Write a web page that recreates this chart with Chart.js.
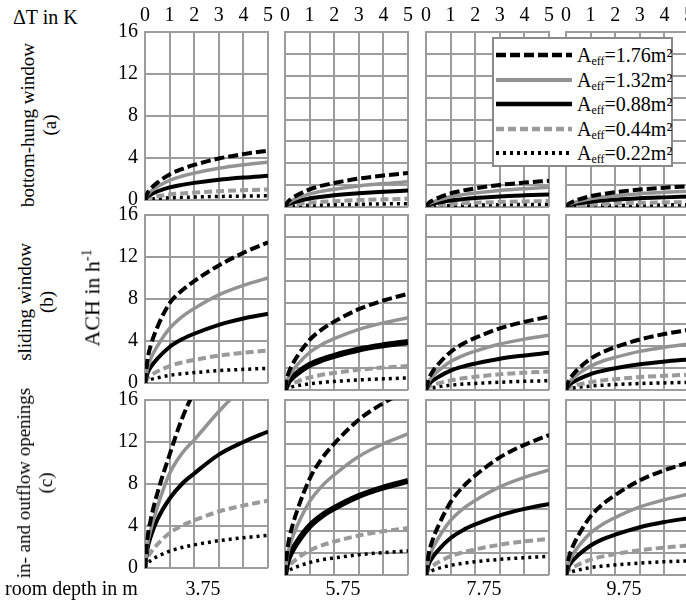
<!DOCTYPE html>
<html>
<head>
<meta charset="utf-8">
<script src="https://cdn.jsdelivr.net/npm/chart.js@4.4.1/dist/chart.umd.min.js"></script>
<style>
  html, body { margin: 0; padding: 0; background: #fff; }
  body { width: 686px; height: 603px; position: relative; overflow: hidden; color: #000; }
  canvas { position: absolute; }
  .lbl { position: absolute; white-space: nowrap; font-size: 20px; line-height: 22px; }
  .rot { transform: translate(-50%, -50%) rotate(-90deg); text-align: center; font-size: 19px; }
  #legend { position: absolute; left: 492px; top: 37px; width: 181px; height: 130px;
            box-sizing: border-box; border: 2px solid #8a8a8a; background: #fff; z-index: 10; }
  #legend .item { position: absolute; left: 0; height: 24px; width: 100%; }
  #legend svg { position: absolute; left: 2px; top: 0; }
  #legend .txt { position: absolute; left: 83px; top: 0; font-size: 20px; line-height: 24px; }
  #legend sub { font-size: 12px; vertical-align: -3px; line-height: 0; }
</style>
</head>
<body>
<script>
// heating difference in K (x) and the opening areas shown as separate curves
const deltaT = [0, 0.1, 0.25, 0.5, 1, 1.5, 2, 3, 4, 5];
const xTicks = [0, 1, 2, 3, 4, 5];
const yTickLabels = [0, 4, 8, 12, 16];
const areaLabels = ['1.76', '1.32', '0.88', '0.44', '0.22'];
const roomDepths = ['3.75', '5.75', '7.75', '9.75'];
const rowNames = [['bottom-hung window', '(a)'], ['sliding window', '(b)'], ['in- and outflow openings', '(c)']];

// ACH in 1/h: [room depth][A_eff][deltaT]
const bottomHung = [
  [
    [0, 0.66, 1.13, 1.65, 2.44, 2.95, 3.34, 3.95, 4.37, 4.7],
    [0, 0.5, 0.86, 1.26, 1.87, 2.26, 2.56, 3.02, 3.35, 3.6],
    [0, 0.32, 0.55, 0.81, 1.2, 1.44, 1.63, 1.93, 2.14, 2.3],
    [0, 0.14, 0.24, 0.35, 0.52, 0.63, 0.71, 0.84, 0.93, 1.0],
    [0, 0.06, 0.1, 0.14, 0.21, 0.25, 0.28, 0.34, 0.37, 0.4]
  ],
  [
    [0, 0.43, 0.74, 1.09, 1.61, 1.95, 2.2, 2.6, 2.88, 3.1],
    [0, 0.32, 0.55, 0.81, 1.2, 1.44, 1.63, 1.93, 2.14, 2.3],
    [0, 0.21, 0.36, 0.53, 0.78, 0.94, 1.07, 1.26, 1.4, 1.5],
    [0, 0.1, 0.18, 0.26, 0.39, 0.47, 0.53, 0.63, 0.7, 0.75],
    [0, 0.04, 0.07, 0.11, 0.16, 0.19, 0.21, 0.25, 0.28, 0.3]
  ],
  [
    [0, 0.34, 0.58, 0.84, 1.25, 1.51, 1.7, 2.02, 2.23, 2.4],
    [0, 0.25, 0.43, 0.63, 0.94, 1.13, 1.28, 1.51, 1.67, 1.8],
    [0, 0.16, 0.28, 0.4, 0.6, 0.72, 0.82, 0.97, 1.07, 1.15],
    [0, 0.08, 0.13, 0.19, 0.29, 0.35, 0.39, 0.46, 0.51, 0.55],
    [0, 0.04, 0.06, 0.09, 0.13, 0.16, 0.18, 0.21, 0.23, 0.25]
  ],
  [
    [0, 0.27, 0.46, 0.67, 0.99, 1.19, 1.35, 1.6, 1.77, 1.9],
    [0, 0.2, 0.35, 0.51, 0.75, 0.91, 1.03, 1.22, 1.35, 1.45],
    [0, 0.13, 0.23, 0.33, 0.49, 0.6, 0.67, 0.8, 0.88, 0.95],
    [0, 0.06, 0.11, 0.16, 0.23, 0.28, 0.32, 0.38, 0.42, 0.45],
    [0, 0.03, 0.05, 0.07, 0.1, 0.13, 0.14, 0.17, 0.19, 0.2]
  ]
];

const sliding = [
  [
    [0, 2.2, 3.7, 5.3, 7.6, 8.8, 9.7, 11.2, 12.4, 13.4],
    [0, 1.4, 2.4, 3.5, 5.2, 6.3, 7.1, 8.4, 9.3, 10.0],
    [0, 0.92, 1.58, 2.31, 3.43, 4.16, 4.69, 5.54, 6.14, 6.6],
    [0, 0.43, 0.74, 1.09, 1.61, 1.95, 2.2, 2.6, 2.88, 3.1],
    [0, 0.2, 0.34, 0.49, 0.73, 0.88, 0.99, 1.18, 1.3, 1.4]
  ],
  [
    [0, 1.23, 2.11, 3.08, 4.58, 5.54, 6.25, 7.39, 8.18, 8.8],
    [0, 0.92, 1.58, 2.31, 3.43, 4.16, 4.69, 5.54, 6.14, 6.6],
    [0, 0.62, 1.06, 1.54, 2.29, 2.77, 3.12, 3.7, 4.09, 4.4],
    [0, 0.31, 0.53, 0.77, 1.14, 1.39, 1.56, 1.85, 2.05, 2.2],
    [0, 0.15, 0.26, 0.39, 0.57, 0.69, 0.78, 0.92, 1.02, 1.1]
  ],
  [
    [0, 0.94, 1.61, 2.35, 3.48, 4.22, 4.76, 5.63, 6.23, 6.7],
    [0, 0.7, 1.2, 1.75, 2.6, 3.15, 3.55, 4.2, 4.65, 5.0],
    [0, 0.48, 0.82, 1.19, 1.77, 2.14, 2.41, 2.86, 3.16, 3.4],
    [0, 0.24, 0.41, 0.6, 0.88, 1.07, 1.21, 1.43, 1.58, 1.7],
    [0, 0.12, 0.2, 0.3, 0.44, 0.54, 0.6, 0.71, 0.79, 0.85]
  ],
  [
    [0, 0.77, 1.32, 1.93, 2.86, 3.47, 3.91, 4.62, 5.12, 5.5],
    [0, 0.59, 1.01, 1.47, 2.18, 2.65, 2.98, 3.53, 3.91, 4.2],
    [0, 0.39, 0.67, 0.98, 1.46, 1.76, 1.99, 2.35, 2.6, 2.8],
    [0, 0.2, 0.34, 0.49, 0.73, 0.88, 0.99, 1.18, 1.3, 1.4],
    [0, 0.1, 0.17, 0.25, 0.36, 0.44, 0.5, 0.59, 0.65, 0.7]
  ]
];

const inOutflow = [
  [
    [0, 2.8, 4.8, 7.1, 10.8, 14.2, 16.8, 21.0, 24.0, 26.0],
    [0, 2.2, 3.8, 5.8, 9.0, 10.9, 12.2, 14.9, 17.3, 19.5],
    [0, 1.8, 3.1, 4.6, 6.6, 8.0, 9.0, 10.8, 12.0, 13.0],
    [0, 0.9, 1.54, 2.24, 3.33, 4.03, 4.54, 5.38, 5.95, 6.4],
    [0, 0.43, 0.74, 1.09, 1.61, 1.95, 2.2, 2.6, 2.88, 3.1]
  ],
  [
    [0, 2.37, 4.06, 5.92, 8.79, 10.65, 12.0, 14.2, 15.72, 16.9],
    [0, 1.81, 3.1, 4.52, 6.71, 8.13, 9.16, 10.84, 12.0, 12.9],
    [0, 1.2, 2.06, 3.01, 4.47, 5.42, 6.11, 7.22, 8.0, 8.6],
    [0, 0.6, 1.03, 1.51, 2.24, 2.71, 3.05, 3.61, 4.0, 4.3],
    [0, 0.31, 0.53, 0.77, 1.14, 1.39, 1.56, 1.85, 2.05, 2.2]
  ],
  [
    [0, 1.79, 3.07, 4.48, 6.66, 8.06, 9.09, 10.75, 11.9, 12.8],
    [0, 1.34, 2.3, 3.36, 4.99, 6.05, 6.82, 8.06, 8.93, 9.6],
    [0, 0.91, 1.56, 2.28, 3.38, 4.1, 4.62, 5.46, 6.05, 6.5],
    [0, 0.46, 0.79, 1.16, 1.72, 2.08, 2.34, 2.77, 3.07, 3.3],
    [0, 0.24, 0.41, 0.6, 0.88, 1.07, 1.21, 1.43, 1.58, 1.7]
  ],
  [
    [0, 1.44, 2.47, 3.61, 5.36, 6.49, 7.31, 8.65, 9.58, 10.3],
    [0, 1.04, 1.78, 2.59, 3.85, 4.66, 5.25, 6.22, 6.88, 7.4],
    [0, 0.73, 1.25, 1.82, 2.7, 3.28, 3.69, 4.37, 4.84, 5.2],
    [0, 0.38, 0.65, 0.95, 1.4, 1.7, 1.92, 2.27, 2.51, 2.7],
    [0, 0.18, 0.31, 0.46, 0.68, 0.82, 0.92, 1.09, 1.21, 1.3]
  ]
];

const rows = [bottomHung, sliding, inOutflow];

// line styles, one per A_eff
const lineColors = ['#000', '#939393', '#000', '#9a9a9a', '#000'];
const lineWidths = [4, 3.5, 4, 4, 3.5];
const lineDashes = [[10, 4], [], [], [8, 4], [3, 4]];
// the 0.88 m² line is drawn heavier in the 5.75 m panels of rows b and c
const heavyPanels = ['1-1', '2-1'];

const gridColor = '#9c9c9c';
const serif = '"Liberation Serif", serif';
document.body.style.fontFamily = serif;
const tickFont = { family: serif, size: 20 };

// panel placement
const panelLeft = [145, 285, 426, 566];
const panelTop = [32, 215, 400];
const panelW = 123, panelH = 175;
const PAD_L = 50, PAD_T = 30, PAD_R = 10, PAD_B = 12;

function label(html, x, y, cls, extra) {
  const d = document.createElement('div');
  d.className = 'lbl' + (cls ? ' ' + cls : '');
  d.innerHTML = html;
  d.style.left = x + 'px';
  d.style.top = y + 'px';
  d.style.fontFamily = serif;
  if (extra) Object.assign(d.style, extra);
  document.body.appendChild(d);
  return d;
}

rows.forEach((panels, r) => {
  panels.forEach((curves, c) => {
    const cv = document.createElement('canvas');
    cv.width = PAD_L + panelW + PAD_R;
    cv.height = PAD_T + panelH + PAD_B;
    cv.style.left = (panelLeft[c] - PAD_L) + 'px';
    cv.style.top = (panelTop[r] - PAD_T) + 'px';
    document.body.appendChild(cv);
    const heavy = heavyPanels.includes(r + '-' + c);

    new Chart(cv, {
      type: 'line',
      data: {
        datasets: curves.map((vals, i) => ({
          label: 'A_eff=' + areaLabels[i] + 'm²',
          data: deltaT.map((t, j) => ({ x: t, y: vals[j] })),
          borderColor: lineColors[i],
          borderWidth: (heavy && i === 2) ? 6 : lineWidths[i],
          borderDash: lineDashes[i],
          borderCapStyle: 'butt',
          pointRadius: 0,
          fill: false,
          cubicInterpolationMode: 'monotone'
        }))
      },
      options: {
        responsive: false,
        animation: false,
        devicePixelRatio: 1,
        layout: { padding: { left: 0, top: 0, right: PAD_R, bottom: PAD_B } },
        plugins: { legend: { display: false }, tooltip: { enabled: false } },
        scales: {
          x: {
            type: 'linear',
            position: 'top',
            min: 0,
            max: 5,
            afterBuildTicks: s => { s.ticks = xTicks.map(v => ({ value: v })); },
            ticks: { display: r === 0, padding: 4, color: '#000', font: tickFont, maxRotation: 0, autoSkip: false },
            grid: { color: gridColor, lineWidth: 2, drawTicks: false },
            border: { color: gridColor, width: 2 },
            afterFit: s => { s.height = PAD_T; }
          },
          y: {
            min: 0,
            max: 16,
            ticks: {
              display: c === 0,
              stepSize: 2,
              padding: 7,
              color: '#000',
              font: tickFont,
              callback: v => yTickLabels.includes(v) ? String(v) : ''
            },
            grid: { color: gridColor, lineWidth: 2, drawTicks: false },
            border: { color: gridColor, width: 2 },
            afterFit: s => { s.width = PAD_L; }
          }
        }
      }
    });
  });
});

// axis captions and row names
label('&Delta;T in K', 13, 6);
label('room depth in m', 5, 577);
roomDepths.forEach((d, c) => {
  label(d, panelLeft[c] + 58, 577, '', { transform: 'translateX(-50%)' });
});
const rowCentre = [[39, 125], [36, 302], [35, 483]];
rowNames.forEach((n, r) => {
  label(n[0] + '<br>' + n[1], rowCentre[r][0], rowCentre[r][1], 'rot');
});
label('ACH in h<sup style="font-size:14px">-1</sup>', 90, 298, 'rot', { fontSize: '22px' });

// legend
const legend = document.createElement('div');
legend.id = 'legend';
legend.style.fontFamily = serif;
areaLabels.forEach((a, i) => {
  const item = document.createElement('div');
  item.className = 'item';
  item.style.top = (4 + i * 24.6) + 'px';
  const dash = lineDashes[i].length ? lineDashes[i].join(' ') : 'none';
  item.innerHTML =
    '<svg width="76" height="24"><line x1="0" y1="12" x2="76" y2="12" stroke="' + lineColors[i] +
    '" stroke-width="' + (lineWidths[i] + 0.5) + '" stroke-dasharray="' + dash + '"/></svg>' +
    '<span class="txt">A<sub>eff</sub>=' + a + 'm²</span>';
  legend.appendChild(item);
});
document.body.appendChild(legend);
</script>
</body>
</html>
